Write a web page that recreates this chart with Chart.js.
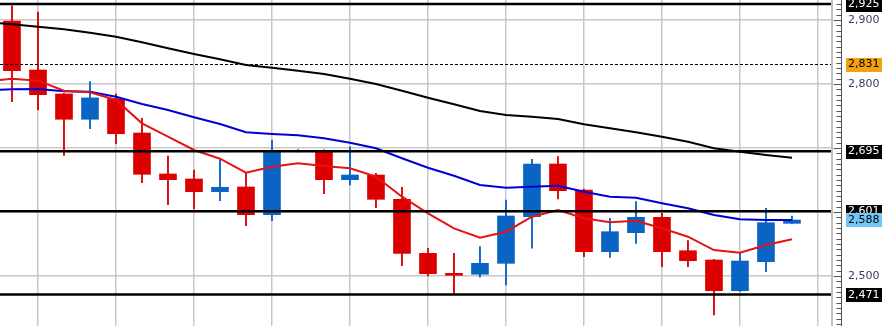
<!DOCTYPE html>
<html><head><meta charset="utf-8">
<script src="https://cdn.jsdelivr.net/npm/chart.js@4.4.1/dist/chart.umd.min.js"></script>
<style>html,body{margin:0;padding:0;background:#fff;overflow:hidden}#wrap{width:892px;height:326px;position:relative}</style>
</head><body><div id="wrap"><canvas id="c"></canvas></div>
<script>
// ---- data (candle index 0..30) ----
const opens  = [2898.4,2821.9,2784.4,2744.9,2777.0,2723.4,2659.4,2651.6,2631.7,2639.1,2595.8,2695.3,2694.2,2650.5,2657.8,2619.8,2535.4,2504.2,2502.7,2519.8,2592.7,2675.0,2634.4,2538.0,2567.7,2591.7,2539.5,2525.0,2477.0,2522.3,2582.3];
const highs  = [2922.3,2912.5,2785.5,2803.6,2784.4,2746.4,2687.5,2665.6,2681.3,2660.5,2712.5,2697.5,2697.0,2702.0,2660.5,2638.6,2543.3,2535.4,2545.8,2618.8,2682.3,2686.4,2636.0,2590.1,2616.1,2598.0,2555.2,2526.0,2535.4,2605.8,2593.7];
const lows   = [2772.4,2759.4,2688.6,2730.2,2706.7,2645.8,2611.4,2604.7,2617.7,2578.6,2586.4,2693.8,2628.6,2642.2,2606.7,2516.1,2500.0,2471.4,2498.0,2486.0,2543.3,2620.3,2530.2,2529.2,2551.1,2514.5,2514.5,2439.1,2476.0,2506.7,2582.0];
const closes = [2820.8,2783.3,2744.9,2778.3,2722.3,2658.9,2650.5,2631.7,2638.6,2595.8,2695.3,2694.6,2650.5,2657.8,2619.8,2535.4,2503.6,2501.1,2519.8,2593.8,2675.0,2633.3,2538.0,2569.2,2591.7,2538.0,2523.9,2477.0,2523.4,2583.3,2587.5];
// moving averages, starting one bar before the first visible candle
const maStart = -1;
const maFast = [2804,2808.3,2805.2,2789.5,2787,2775,2738.6,2717.7,2696.9,2683.3,2661.4,2670.8,2676.1,2671.9,2668.3,2655.2,2623.9,2598,2574.5,2559.8,2569.2,2592.7,2603.1,2590.2,2583.9,2586.4,2574.5,2561.4,2540.6,2536.4,2548.4,2557.3];
const maMid  = [2789.8,2791.7,2792.2,2788.6,2788,2780.2,2768.7,2759.4,2748,2737.5,2724.5,2721.9,2719.8,2715.2,2708.3,2699.5,2683.9,2669.2,2656.7,2642.2,2638,2639.5,2641.1,2631.7,2623.9,2622.3,2613.6,2605.8,2595.3,2588.6,2587.5,2587.5];
const maSlow = [2896.9,2893.3,2889.5,2885.5,2880.2,2873.9,2865.2,2855.8,2846.9,2838.6,2829.7,2825.5,2820.8,2815.6,2808.3,2800,2789.5,2778.6,2768.3,2757.8,2751.6,2748.9,2745.3,2737.2,2730.8,2724.5,2717.7,2709.8,2699.5,2694.2,2689.1,2684.8];
// horizontal levels
const solidLevels = [2925, 2695, 2601, 2471];
const pivotLevel = 2831;
const lastPrice = 2588;
// axis ticks
const yTicks = [2500, 2600, 2700, 2800, 2900];
const xGridIdx = [1,4,7,10,13,16,19,22,25,28,31];

// ---- chart ----
const RED = '#dc0000', BLUE = '#0a64c4';
const idx = opens.map((_, i) => i);
const candleColors = idx.map(i => closes[i] >= opens[i] ? BLUE : RED);
const maPts = arr => arr.map((v, k) => ({x: k + maStart, y: v}));
const fmt = v => Math.round(v).toLocaleString('en-US');
const FONT = '11px "DejaVu Sans", Verdana, sans-serif';
const allMarked = solidLevels.concat([pivotLevel, lastPrice]);
// a tick label lying under a price box is covered by it
const covered = v => allMarked.some(m => Math.abs(m - v) < 12);

const overlay = {
  id: 'overlay',
  afterDatasetsDraw(chart) {
    const {ctx, chartArea: a, scales: {y}} = chart;
    ctx.save();
    ctx.beginPath(); ctx.rect(a.left, a.top, a.right - a.left - 1, a.bottom - a.top); ctx.clip();
    ctx.strokeStyle = '#000';
    ctx.lineWidth = 2.5;
    solidLevels.forEach(v => {
      const py = y.getPixelForValue(v);
      ctx.beginPath(); ctx.moveTo(a.left, py); ctx.lineTo(a.right, py); ctx.stroke();
    });
    ctx.lineWidth = 1; ctx.setLineDash([3, 2]);
    const pp = Math.round(y.getPixelForValue(pivotLevel)) + 0.5;
    ctx.beginPath(); ctx.moveTo(a.left, pp); ctx.lineTo(a.right, pp); ctx.stroke();
    ctx.restore();
  },
  afterDraw(chart) {
    const {ctx, scales: {y}} = chart;
    ctx.save();
    const axisX = y.left + 9.5;
    ctx.strokeStyle = '#555'; ctx.lineWidth = 1;
    ctx.beginPath(); ctx.moveTo(axisX, y.top); ctx.lineTo(axisX, y.bottom); ctx.stroke();
    const step = 100 / 12;
    for (let k = -80; k <= 80; k++) {
      const v = 2500 + k * step;
      if (v < y.min || v > y.max) continue;
      const py = Math.round(y.getPixelForValue(v)) + 0.5;
      const major = k % 12 === 0;
      ctx.beginPath(); ctx.moveTo(axisX - (major ? 8 : 5), py); ctx.lineTo(axisX, py); ctx.stroke();
    }
    const boxes = solidLevels.concat([pivotLevel]).map(v => ({v, bg: v === pivotLevel ? '#f5a010' : '#000', fg: v === pivotLevel ? '#000' : '#fff'}));
    boxes.push({v: lastPrice, bg: '#73c6f3', fg: '#000'});
    ctx.font = FONT; ctx.textBaseline = 'middle'; ctx.textAlign = 'left';
    boxes.forEach(b => {
      const py = y.getPixelForValue(b.v);
      ctx.fillStyle = b.bg;
      ctx.fillRect(y.left + 14, Math.round(py - 6.5), 36, 14);
      ctx.fillStyle = b.fg;
      ctx.fillText(fmt(b.v), y.left + 16, Math.round(py) + 0.5);
    });
    ctx.restore();
  }
};

new Chart(document.getElementById('c'), {
  type: 'bar',
  data: { datasets: [
    {type: 'line', data: maPts(maFast), borderColor: '#e41414', borderWidth: 2, pointRadius: 0, tension: 0, order: 0},
    {type: 'line', data: maPts(maMid), borderColor: '#0000d4', borderWidth: 2, pointRadius: 0, tension: 0, order: 1},
    {type: 'line', data: maPts(maSlow), borderColor: '#000', borderWidth: 2, pointRadius: 0, tension: 0, order: 2},
    {type: 'bar', data: idx.map(i => ({x: i, y: [opens[i], closes[i]]})), backgroundColor: candleColors, barThickness: 17, grouped: false, order: 3},
    {type: 'bar', data: idx.map(i => ({x: i, y: [lows[i], highs[i]]})), backgroundColor: candleColors, barThickness: 1.2, grouped: false, order: 4}
  ]},
  options: {
    responsive: true, maintainAspectRatio: false, animation: false, events: [],
    layout: {padding: 0, autoPadding: false},
    plugins: {legend: {display: false}, tooltip: {enabled: false}},
    scales: {
      x: {type: 'linear', min: -0.4615, max: 31.54, offset: false,
          afterBuildTicks: s => { s.ticks = xGridIdx.map(v => ({value: v})); },
          afterFit: s => { s.height = 0; s.paddingLeft = 0; s.paddingRight = 0; },
          ticks: {display: false},
          grid: {color: '#c8c8c8', lineWidth: 1.5, drawTicks: false, offset: false},
          border: {display: false}},
      y: {position: 'right', min: 2421.875, max: 2931.25,
          afterFit: s => { s.width = 60; s.paddingTop = 0; s.paddingBottom = 0; },
          afterBuildTicks: s => { s.ticks = yTicks.map(v => ({value: v})); },
          ticks: {padding: 16, color: '#3a3a62', font: {family: '"DejaVu Sans", Verdana, sans-serif', size: 11}, callback: v => covered(v) ? '' : fmt(v)},
          grid: {color: '#c8c8c8', lineWidth: 1.5, drawTicks: false},
          border: {display: true, color: '#c0c0c0', width: 2}}
    }
  },
  plugins: [overlay]
});
</script>
</body></html>
